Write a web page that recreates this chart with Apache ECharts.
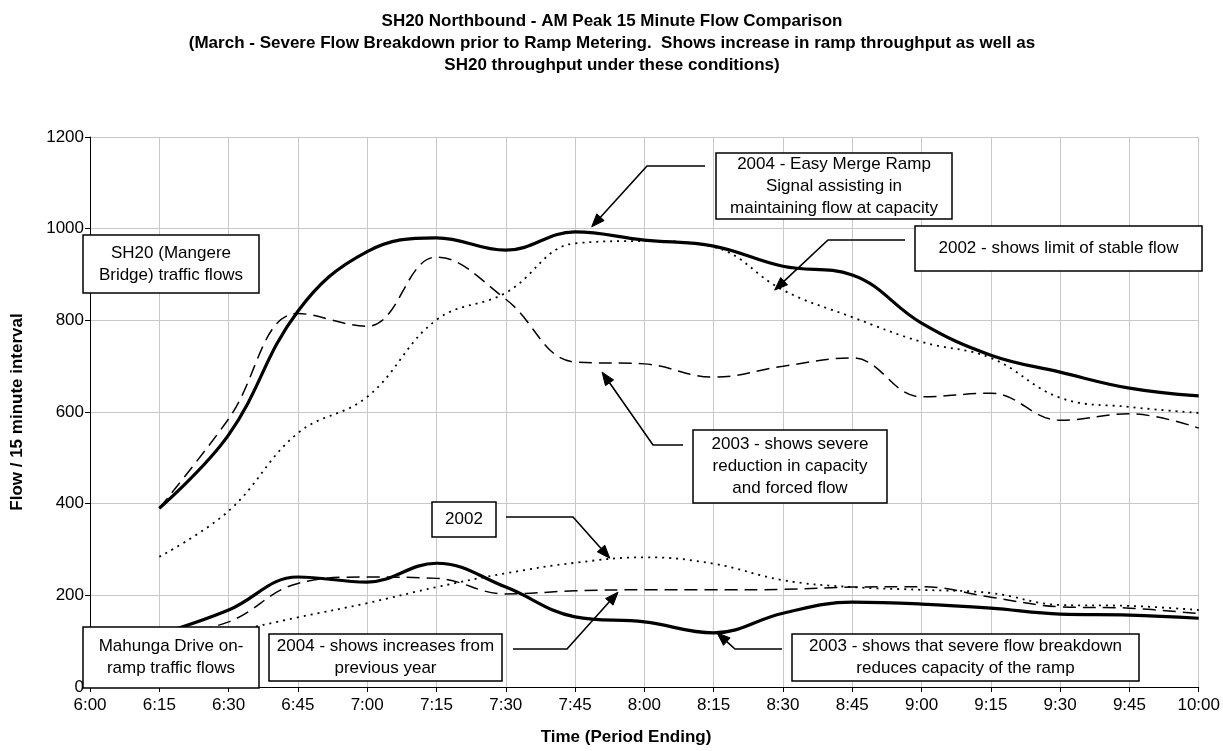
<!DOCTYPE html>
<html><head><meta charset="utf-8">
<script src="https://cdn.jsdelivr.net/npm/echarts@6/dist/echarts.min.js"></script>
<style>html,body{margin:0;padding:0;background:#fff}#c{width:1223px;height:751px}</style>
</head><body><div id="c"></div>
<script>
const times = ['6:00','6:15','6:30','6:45','7:00','7:15','7:30','7:45','8:00','8:15','8:30','8:45','9:00','9:15','9:30','9:45','10:00'];
const yTicks = [0,200,400,600,800,1000,1200];
// SH20 (Mangere Bridge)
const sh20_2004 = [null,390,550,820,950,980,953,993,975,962,918,899,794,724,687,652,635];
const sh20_2003 = [null,390,585,815,787,938,846,709,705,676,700,718,633,641,582,596,565];
const sh20_2002 = [null,284,384,554,633,801,860,968,973,960,866,807,753,718,631,611,598];
// Mahunga Drive on-ramp
const ramp_2004 = [null,115,168,240,229,270,218,153,142,118,161,185,181,172,159,157,150];
const ramp_2003 = [null,110,142,226,240,237,203,210,212,212,213,218,219,196,175,172,160];
const ramp_2002 = [null,95,120,152,183,218,248,271,283,269,233,218,212,205,179,177,168];

const FONT = '"Liberation Sans", Arial, sans-serif';
const chart = echarts.init(document.getElementById('c'), null, {renderer:'canvas'});

function lineSeries(name, data, type, width){
  return {name, type:'line', data, smooth:0.4, symbol:'none', connectNulls:false,
    lineStyle:{color:'#000', width, type}, z:3};
}
chart.setOption({
  animation:false,
  backgroundColor:'#fff',
  grid:{left:90, right:24, top:137, bottom:64, containLabel:false},
  xAxis:{type:'category', data:times, boundaryGap:false,
    axisLine:{lineStyle:{color:'#000', width:1}},
    axisTick:{show:true, length:5, lineStyle:{color:'#000'}},
    axisLabel:{color:'#000', fontFamily:FONT, fontSize:17, margin:10, interval:0},
    splitLine:{show:true, lineStyle:{color:'#c8c8c8', width:1}}},
  yAxis:{type:'value', min:yTicks[0], max:yTicks[yTicks.length-1], interval:200,
    name:'Flow / 15 minute interval', nameLocation:'middle', nameGap:64, nameRotate:90,
    nameTextStyle:{color:'#000', fontFamily:FONT, fontSize:17, fontWeight:'bold'},
    axisLine:{show:true, lineStyle:{color:'#000', width:1}},
    axisTick:{show:true, length:5, lineStyle:{color:'#000'}},
    axisLabel:{color:'#000', fontFamily:FONT, fontSize:17, margin:6, formatter:v=>String(v)},
    splitLine:{show:true, lineStyle:{color:'#c8c8c8', width:1}}},
  series:[
    lineSeries('SH20 2004', sh20_2004, 'solid', 3.2),
    lineSeries('SH20 2003', sh20_2003, [13,7], 1.5),
    lineSeries('SH20 2002', sh20_2002, [2,5], 1.8),
    lineSeries('Ramp 2004', ramp_2004, 'solid', 3.2),
    lineSeries('Ramp 2003', ramp_2003, [13,7], 1.5),
    lineSeries('Ramp 2002', ramp_2002, [2,5], 1.8)
  ]
});

function px(i, v){
  const i0 = Math.floor(i), f = i - i0;
  const a = chart.convertToPixel({xAxisIndex:0, yAxisIndex:0}, [i0, v]);
  if (f === 0) return a;
  const b = chart.convertToPixel({xAxisIndex:0, yAxisIndex:0}, [i0+1, v]);
  return [a[0] + (b[0]-a[0])*f, a[1]];
}

// annotation boxes: [x, y, w, h, text]
const boxes = [
  [83, 235, 176, 58, 'SH20 (Mangere\nBridge) traffic flows'],
  [716, 153, 236, 66, '2004 - Easy Merge Ramp\nSignal assisting in\nmaintaining flow at capacity'],
  [915, 226, 287, 45, '2002 - shows limit of stable flow'],
  [693, 430, 194, 73, '2003 - shows severe\nreduction in capacity\nand forced flow'],
  [432, 502, 64, 35, '2002'],
  [83, 627, 176, 61, 'Mahunga Drive on-\nramp traffic flows'],
  [269, 634, 233, 47, '2004 - shows increases from\nprevious year'],
  [792, 634, 347, 47, '2003 - shows that severe flow breakdown\nreduces capacity of the ramp']
];
// arrows: start point, elbow point, target in data coords [index, value]
const arrows = [
  [[705,166],[647,166],[7.24,1004]],
  [[905,240],[828,240],[9.88,866]],
  [[683,445],[653,445],[7.39,687]],
  [[506,517],[573,517],[7.5,281]],
  [[513,649],[567,649],[7.62,207]],
  [[782,649],[735,649],[9.05,118]]
];

const g = [];
g.push({type:'text', z:10,
  style:{text:'SH20 Northbound - AM Peak 15 Minute Flow Comparison\n(March - Severe Flow Breakdown prior to Ramp Metering.  Shows increase in ramp throughput as well as\nSH20 throughput under these conditions)',
    x:612, y:10, align:'center', verticalAlign:'top', font:'bold 17px '+FONT, lineHeight:22, fill:'#000'}});
g.push({type:'text', z:10,
  style:{text:'Time (Period Ending)', x:626, y:737, align:'center', verticalAlign:'middle', font:'bold 17px '+FONT, fill:'#000'}});

arrows.forEach(a=>{
  const t = px(a[2][0], a[2][1]);
  const e = a[1];
  const dx = t[0]-e[0], dy = t[1]-e[1], L = Math.hypot(dx,dy);
  const ux = dx/L, uy = dy/L;
  const hl = 13, hw = 5;
  const bx = t[0]-ux*hl, by = t[1]-uy*hl;
  g.push({type:'polyline', z:20, shape:{points:[a[0], e, [bx,by]]}, style:{stroke:'#000', lineWidth:1.6, fill:null}});
  g.push({type:'polygon', z:20, shape:{points:[t,[bx-uy*hw, by+ux*hw],[bx+uy*hw, by-ux*hw]]}, style:{fill:'#000', stroke:'#000', lineWidth:1}});
});

boxes.forEach(b=>{
  g.push({type:'rect', z:30, shape:{x:b[0], y:b[1], width:b[2], height:b[3]}, style:{fill:'#fff', stroke:'#000', lineWidth:1.5}});
  g.push({type:'text', z:31, style:{text:b[4], x:b[0]+b[2]/2, y:b[1]+b[3]/2, align:'center', verticalAlign:'middle', font:'17px '+FONT, lineHeight:22, fill:'#000'}});
});
chart.setOption({graphic:g});
</script>
</body></html>
